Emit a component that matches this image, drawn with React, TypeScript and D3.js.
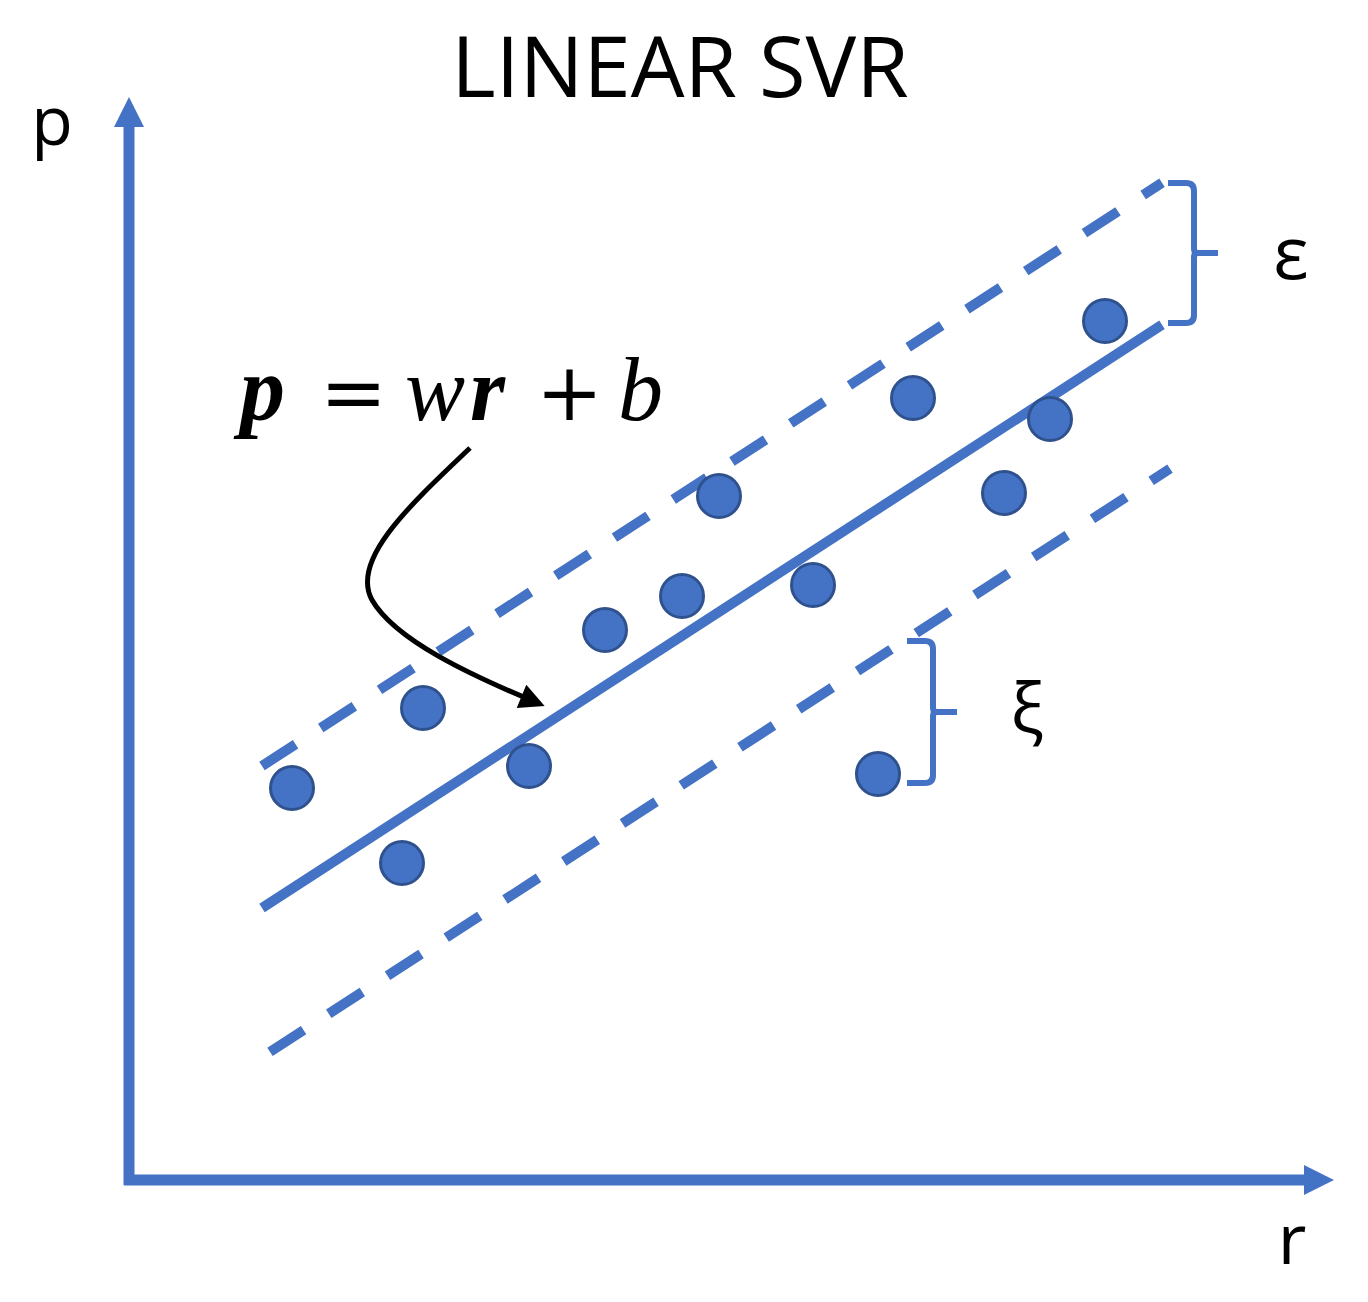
import React from "react";
import * as d3 from "d3";

// ---- data ----
const pointR = [1.63, 2.94, 2.73, 4.0, 4.76, 5.53, 5.9, 6.84, 7.49, 7.84, 8.75, 9.21, 9.76];
const pointP = [3.92, 4.72, 3.17, 4.14, 5.5, 5.84, 6.84, 5.95, 4.06, 7.82, 6.87, 7.61, 8.59];
const slopeW = 0.648;
const interceptB = 1.858;
const epsUpper = 1.42;
const epsLower = 1.49;
const solidRange = [1.33, 10.33];
const upperRange = [1.33, 10.33];
const lowerRange = [1.41, 10.41];
const braceLabels = ["ε", "ξ"];
const braceR = [10.65, 8.04];
const braceTop = [9.97, 5.39];
const braceBottom = [8.57, 3.97];
const titleText = "LINEAR SVR";
const axisLabels = ["r", "p"];

const W = 1368;
const H = 1302;

const x = d3.scaleLinear().domain([0, 12]).range([129, 1329]);
const y = d3.scaleLinear().domain([0, 10.8]).range([1180, 100]);

const fit = (r: number, off: number) => interceptB + slopeW * r + off;

export default function App() {
  const blue = "#4472C4";
  const line = d3.line<[number, number]>().x((d) => x(d[0])).y((d) => y(d[1]));
  const seg = (range: number[], off: number) =>
    line([
      [range[0], fit(range[0], off)],
      [range[1], fit(range[1], off)],
    ]) as string;

  const bracePath = (i: number) => {
    const x0 = x(braceR[i]) - 26;
    const xc = x(braceR[i]);
    const yt = y(braceTop[i]);
    const yb = y(braceBottom[i]);
    const ym = (yt + yb) / 2;
    const rr = 8;
    return `M${x0},${yt} H${xc - rr} Q${xc},${yt} ${xc},${yt + rr} V${ym - 4} Q${xc},${ym} ${xc + 4},${ym} H${xc + 24} M${xc + 4},${ym} Q${xc},${ym} ${xc},${ym + 4} V${yb - rr} Q${xc},${yb} ${xc - rr},${yb} H${x0}`;
  };

  const ax0 = x(0);
  const ay0 = y(0);
  const axEnd = x(12.05);
  const ayEnd = y(10.83);

  return (
    <svg width={W} height={H} style={{ display: "block", marginTop: -8, marginLeft: -8 }}>
      <defs>
        <marker id="ah" viewBox="0 0 10 10" refX="8" refY="5" markerWidth="6" markerHeight="5" orient="auto" markerUnits="strokeWidth">
          <path d="M0,0 L10,5 L0,10 z" fill="#000" />
        </marker>
      </defs>
      <rect width={W} height={H} fill="#fff" />
      {/* title */}
      <text x={680} y={97} textAnchor="middle" fontFamily="Open Sans" fontSize={85} fill="#000">
        {titleText}
      </text>
      {/* axes */}
      <line x1={ax0} y1={ay0 + 5} x2={ax0} y2={ayEnd + 30} stroke={blue} strokeWidth={11} />
      <path d={`M${ax0 - 15},${ayEnd + 30} L${ax0},${ayEnd} L${ax0 + 15},${ayEnd + 30} Z`} fill={blue} />
      <line x1={ax0 - 5} y1={ay0} x2={axEnd - 30} y2={ay0} stroke={blue} strokeWidth={11} />
      <path d={`M${axEnd - 30},${ay0 - 15} L${axEnd},${ay0} L${axEnd - 30},${ay0 + 15} Z`} fill={blue} />
      <text x={52} y={145} textAnchor="middle" fontFamily="Open Sans" fontSize={68} fill="#000">
        {axisLabels[1]}
      </text>
      <text x={1292} y={1264} textAnchor="middle" fontFamily="Open Sans" fontSize={70} fill="#000">
        {axisLabels[0]}
      </text>
      {/* regression lines */}
      <path d={seg(upperRange, epsUpper)} stroke={blue} strokeWidth={10} strokeDasharray="40 30" fill="none" />
      <path d={seg(solidRange, 0)} stroke={blue} strokeWidth={10} fill="none" />
      <path d={seg(lowerRange, -epsLower)} stroke={blue} strokeWidth={10} strokeDasharray="40 30" fill="none" />
      {/* points */}
      {pointR.map((r, i) => (
        <circle key={i} cx={x(r)} cy={y(pointP[i])} r={21.5} fill={blue} stroke="#2F528F" strokeWidth={3} />
      ))}
      {/* braces */}
      {braceLabels.map((lab, i) => (
        <g key={lab}>
          <path d={bracePath(i)} stroke={blue} strokeWidth={6} fill="none" />
        </g>
      ))}
      <text x={1291} y={279} textAnchor="middle" fontFamily="Open Sans" fontSize={74} fill="#000">
        {braceLabels[0]}
      </text>
      <text x={1027} y={733} textAnchor="middle" fontFamily="Open Sans" fontSize={70} fill="#000">
        {braceLabels[1]}
      </text>
      {/* equation */}
      <text y={420} fontFamily="Liberation Serif" fontSize={90} fill="#000">
        <tspan x={240} fontStyle="italic" fontWeight="bold">p</tspan>
        <tspan x={320} fontStyle="normal" fontFamily="DejaVu Serif" fontSize={80}>=</tspan>
        <tspan x={405} fontStyle="italic">w</tspan>
        <tspan x={470} fontStyle="italic" fontWeight="bold">r</tspan>
        <tspan x={536} fontStyle="normal" fontFamily="DejaVu Serif" fontSize={80}>+</tspan>
        <tspan x={618} fontStyle="italic">b</tspan>
      </text>
      {/* arrow */}
      <path
        d="M470,448 C410,505 350,560 372,600 C395,640 470,675 540,704"
        stroke="#000"
        strokeWidth={5}
        fill="none"
        markerEnd="url(#ah)"
      />
    </svg>
  );
}
